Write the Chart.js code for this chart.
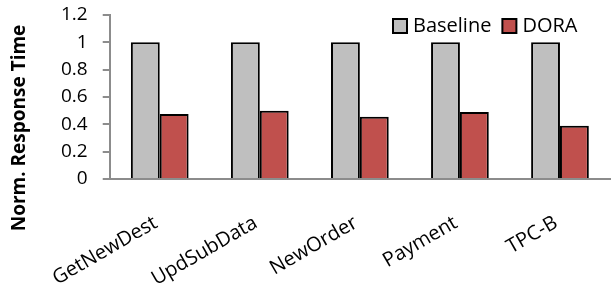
<!DOCTYPE html>
<html>
<head>
<meta charset="utf-8">
<script src="https://cdn.jsdelivr.net/npm/chart.js@4.4.0/dist/chart.umd.min.js"></script>
<style>
  html, body { margin: 0; padding: 0; background: #fff; }
  #wrap { width: 611px; height: 286px; }
</style>
</head>
<body>
<div id="wrap"><canvas id="chart"></canvas></div>
<script>
const categories = ['GetNewDest', 'UpdSubData', 'NewOrder', 'Payment', 'TPC-B'];
const baselineValues = [1, 1, 1, 1, 1];
const doraValues = [0.475, 0.5, 0.455, 0.49, 0.39];
const seriesNames = ['Baseline', 'DORA'];
const seriesColors = ['#bfbfbf', '#c0504d'];
const yTicks = [0, 0.2, 0.4, 0.6, 0.8, 1, 1.2];
const yTitle = 'Norm. Response Time';

const FONT = '"Open Sans", "Noto Sans", sans-serif';

// legend inside the plot area (top right) and the y title, centred on the page height
const extras = {
    id: 'extras',
    afterDraw(chart) {
        const ctx = chart.ctx;
        const area = chart.chartArea;
        ctx.save();
        ctx.font = '20px ' + FONT;
        ctx.textBaseline = 'middle';
        let x = area.right - 217;
        const y = 26;
        chart.data.datasets.forEach(ds => {
            ctx.fillStyle = ds.backgroundColor;
            ctx.fillRect(x, y - 7, 14, 14);
            ctx.strokeStyle = '#000';
            ctx.lineWidth = 2;
            ctx.strokeRect(x, y - 7, 14, 14);
            ctx.fillStyle = '#000';
            ctx.fillText(ds.label, x + 20, y);
            x += 20 + ctx.measureText(ds.label).width + 11;
        });

        ctx.translate(20, 128);
        ctx.rotate(-Math.PI / 2);
        ctx.font = 'bold 19px ' + FONT;
        ctx.textAlign = 'center';
        ctx.fillStyle = '#000';
        ctx.fillText(yTitle, 0, 0);
        ctx.restore();
    }
};

const ctx = document.getElementById('chart').getContext('2d');
new Chart(ctx, {
    type: 'bar',
    data: {
        labels: categories,
        datasets: [
            { label: seriesNames[0], data: baselineValues, backgroundColor: seriesColors[0], borderColor: '#000', borderWidth: 2 },
            { label: seriesNames[1], data: doraValues, backgroundColor: seriesColors[1], borderColor: '#000', borderWidth: 2 }
        ]
    },
    options: {
        responsive: true,
        maintainAspectRatio: false,
        animation: false,
        layout: { padding: { top: 15, right: 1, left: 46, bottom: 0 } },
        datasets: {
            bar: { categoryPercentage: 0.577, barPercentage: 1.0 }
        },
        plugins: {
            legend: { display: false },
            tooltip: { enabled: false }
        },
        scales: {
            x: {
                grid: { display: false, drawTicks: false },
                border: { color: '#8c8c8c', width: 2 },
                afterFit: axis => { axis.height = 107; },
                ticks: {
                    color: '#000',
                    font: { family: FONT, size: 20 },
                    maxRotation: 30,
                    minRotation: 30,
                    labelOffset: -4,
                    padding: 32
                }
            },
            y: {
                min: 0,
                max: 1.2,
                afterBuildTicks: axis => { axis.ticks = yTicks.map(v => ({ value: v })); },
                afterFit: axis => { axis.paddingTop = 0; axis.paddingBottom = 0; },
                ticks: {
                    autoSkip: false,
                    color: '#000',
                    font: { family: FONT, size: 19 },
                    padding: 15,
                    callback: v => String(+v.toFixed(1))
                },
                grid: { drawOnChartArea: false, drawTicks: true, tickLength: 7, color: '#8c8c8c', lineWidth: 2 },
                border: { color: '#8c8c8c', width: 2 }
            }
        }
    },
    plugins: [extras]
});
</script>
</body>
</html>
